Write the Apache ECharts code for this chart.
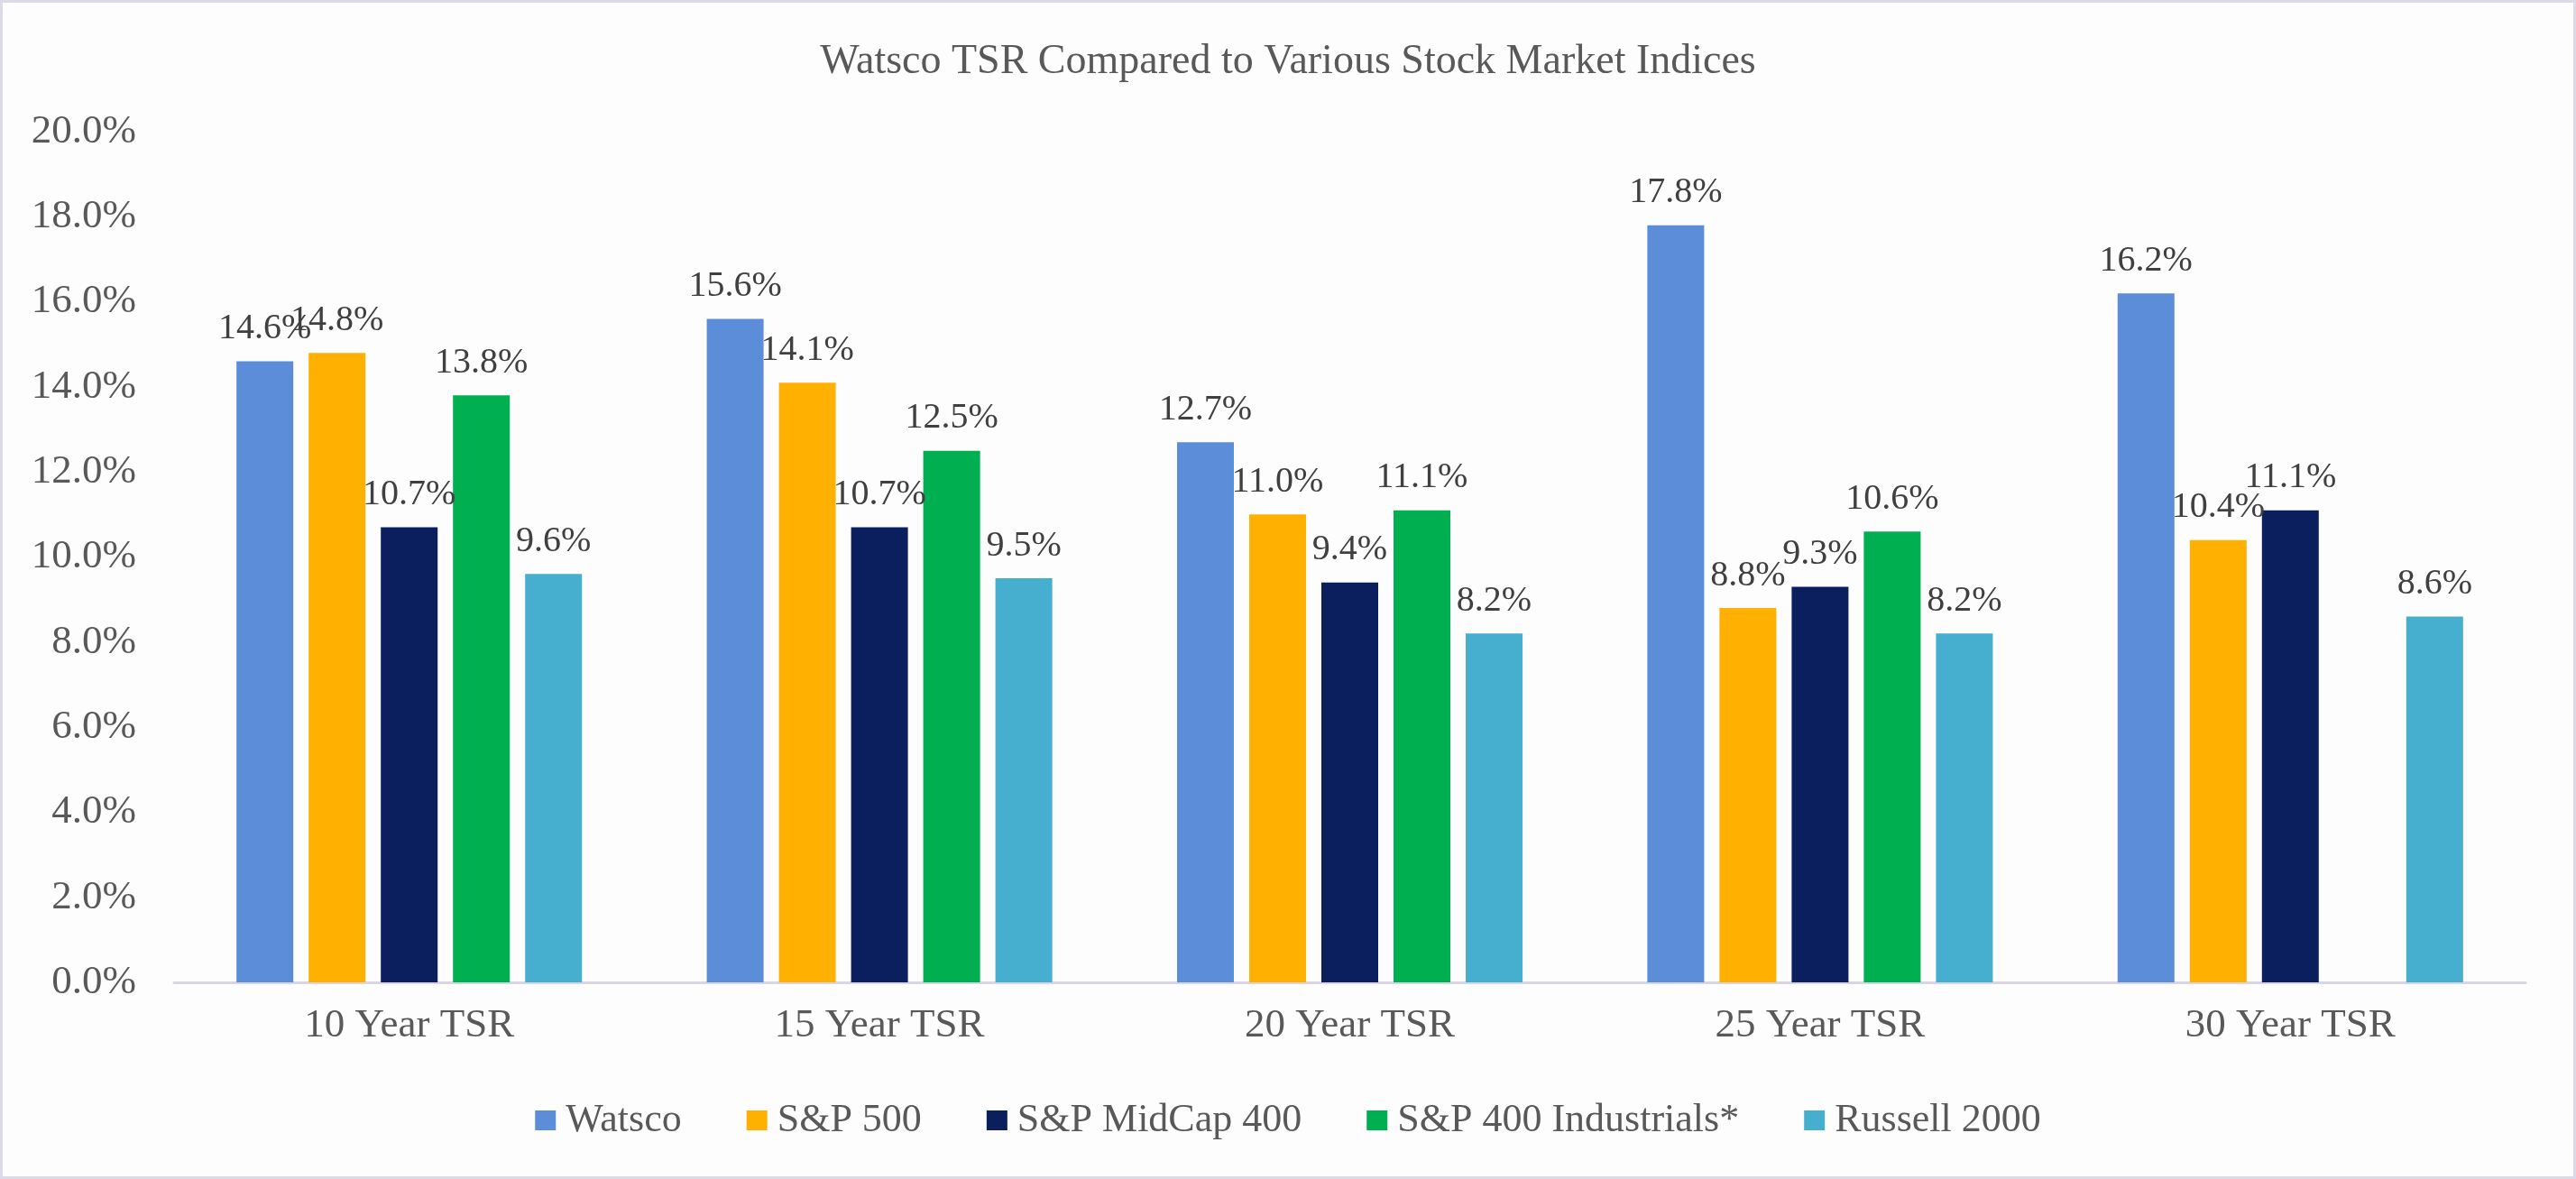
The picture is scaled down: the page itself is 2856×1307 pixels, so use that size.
<!DOCTYPE html>
<html>
<head>
<meta charset="utf-8">
<title>Watsco TSR</title>
<script src="https://cdn.jsdelivr.net/npm/echarts@6/dist/echarts.min.js"></script>
<style>
  html, body { margin: 0; padding: 0; background: #ffffff; }
  #main {
    width: 2856px; height: 1307px;
    box-sizing: border-box;
    border: 3px solid #dcd9e8;
    background: #fdfdfd;
  }
</style>
</head>
<body>
<div id="main"></div>
<script>
// categories and series values (percent)
var periods = ['10 Year TSR', '15 Year TSR', '20 Year TSR', '25 Year TSR', '30 Year TSR'];
var seriesNames = ['Watsco', 'S&P 500', 'S&P MidCap 400', 'S&P 400 Industrials*', 'Russell 2000'];
var watsco = [14.6, 15.6, 12.7, 17.8, 16.2];
var sp500 = [14.8, 14.1, 11.0, 8.8, 10.4];
var midcap400 = [10.7, 10.7, 9.4, 9.3, 11.1];
var industrials400 = [13.8, 12.5, 11.1, 10.6, null];
var russell2000 = [9.6, 9.5, 8.2, 8.2, 8.6];
var colors = ['#5b8dd9', '#ffb000', '#0b1f5e', '#00b050', '#46afd0'];

var font = 'Liberation Serif';
var chart = echarts.init(document.getElementById('main'));

// 柱状图系列
function makeSeries(name, data) {
  return {
    name: name,
    type: 'bar',
    barWidth: 63,
    barGap: '27%',
    data: data,
    label: {
      show: true,
      position: 'top',
      distance: 16,
      fontFamily: font,
      fontSize: 40,
      color: '#404040',
      formatter: function (p) { return p.value.toFixed(1) + '%'; }
    }
  };
}

var option = {
  animation: false,
  color: colors,
  title: {
    text: 'Watsco TSR Compared to Various Stock Market Indices',
    left: 'center',
    top: 38,
    textStyle: { fontFamily: font, fontSize: 46, fontWeight: 'normal', color: '#595959' }
  },
  legend: {
    top: 1212,
    left: 'center',
    icon: 'rect',
    itemWidth: 23,
    itemHeight: 22,
    itemGap: 72,
    textStyle: { fontFamily: font, fontSize: 44, color: '#595959', padding: [0, 0, 0, 6] },
    data: seriesNames
  },
  grid: {
    left: 190,
    right: 53,
    top: 143,
    bottom: 215,
    containLabel: false
  },
  xAxis: {
    type: 'category',
    data: periods,
    axisLine: { lineStyle: { color: '#d9d5e2', width: 3 } },
    axisTick: { show: false },
    axisLabel: { fontFamily: font, fontSize: 45, color: '#595959', margin: 26 }
  },
  yAxis: {
    type: 'value',
    min: 0,
    max: 20,
    interval: 2,
    axisLine: { show: false },
    axisTick: { show: false },
    splitLine: { show: false },
    axisLabel: {
      fontFamily: font,
      fontSize: 45,
      color: '#595959',
      margin: 42,
      formatter: function (v) { return v.toFixed(1) + '%'; }
    }
  },
  series: [
    makeSeries(seriesNames[0], watsco),
    makeSeries(seriesNames[1], sp500),
    makeSeries(seriesNames[2], midcap400),
    makeSeries(seriesNames[3], industrials400),
    makeSeries(seriesNames[4], russell2000)
  ]
};

chart.setOption(option);
</script>
</body>
</html>
